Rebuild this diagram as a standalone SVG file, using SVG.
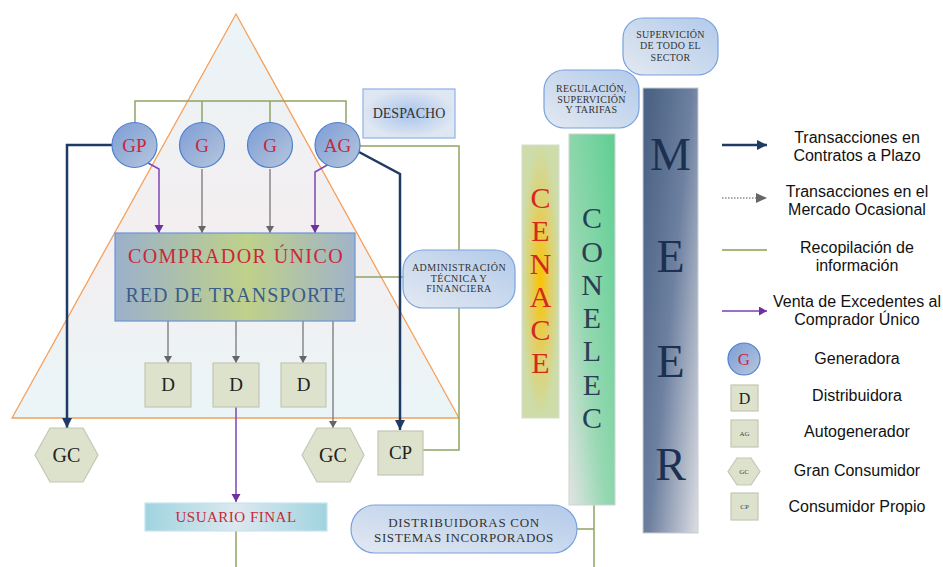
<svg xmlns="http://www.w3.org/2000/svg" width="943" height="567" viewBox="0 0 943 567">
<defs>
<linearGradient id="triG" x1="0" y1="0" x2="0" y2="1">
<stop offset="0" stop-color="#eaf4f7"/><stop offset="0.55" stop-color="#f4eef0"/><stop offset="1" stop-color="#eaf5f8"/>
</linearGradient>
<linearGradient id="circG" x1="0" y1="0" x2="1" y2="1">
<stop offset="0" stop-color="#7c9dd6"/><stop offset="1" stop-color="#b7c6dc"/>
</linearGradient>
<linearGradient id="cuG" x1="0" y1="0" x2="1" y2="0">
<stop offset="0" stop-color="#9bb0cb"/><stop offset="0.55" stop-color="#bfd18a"/><stop offset="1" stop-color="#a0b3c9"/>
</linearGradient>
<linearGradient id="ufG" x1="0" y1="0" x2="1" y2="0">
<stop offset="0" stop-color="#a0d4e0"/><stop offset="0.5" stop-color="#dde8ef"/><stop offset="1" stop-color="#a0d4e0"/>
</linearGradient>
<linearGradient id="lblG" x1="1" y1="0" x2="0" y2="1">
<stop offset="0" stop-color="#b2caea"/><stop offset="1" stop-color="#e3e9f1"/>
</linearGradient>
<radialGradient id="despG" cx="0.5" cy="0.5" r="0.5">
<stop offset="0" stop-color="#a8c3ec"/><stop offset="1" stop-color="#dfe7f2"/>
</radialGradient>
<radialGradient id="cenG" cx="0.5" cy="0.5" r="0.5">
<stop offset="0" stop-color="#fbc200"/><stop offset="0.55" stop-color="#e0d06a"/><stop offset="1" stop-color="#cddca8"/>
</radialGradient>
<linearGradient id="conG" x1="1" y1="0" x2="0" y2="1">
<stop offset="0" stop-color="#5ecf92"/><stop offset="0.6" stop-color="#96d8b2"/><stop offset="1" stop-color="#e2e4e4"/>
</linearGradient>
<linearGradient id="meerG" x1="0" y1="0.2" x2="1" y2="1">
<stop offset="0" stop-color="#4d6486"/><stop offset="0.45" stop-color="#6d80a0"/><stop offset="1" stop-color="#dcdee3"/>
</linearGradient>
<marker id="aNavy" markerWidth="10" markerHeight="10" refX="10" refY="5" orient="auto" markerUnits="userSpaceOnUse"><path d="M0,0 L10,5 L0,10 z" fill="#1f3a63"/></marker>
<marker id="aGray" markerWidth="8" markerHeight="8" refX="7" refY="4" orient="auto" markerUnits="userSpaceOnUse"><path d="M0,0 L7,4 L0,8 z" fill="#666"/></marker>
<marker id="aPur" markerWidth="9" markerHeight="10" refX="8" refY="4.5" orient="auto" markerUnits="userSpaceOnUse"><path d="M0,0 L8,4.5 L0,9 z" fill="#7030a0"/></marker>
<marker id="aGrayL" markerWidth="12" markerHeight="10" refX="11" refY="5" orient="auto" markerUnits="userSpaceOnUse"><path d="M0,0 L11,5 L0,10 z" fill="#666"/></marker>
<style>
.sf{font-family:"Liberation Serif","DejaVu Serif",serif;text-anchor:middle}
.ss{font-family:"Liberation Sans",Arial,sans-serif;text-anchor:middle;font-size:16px;fill:#111}
.red{fill:#c8283a}
.dk{fill:#333}
.box{fill:#dde2cc;stroke:#c3c7b5;stroke-width:1.2}
.circ{fill:url(#circG);stroke:#4f7fcf;stroke-width:1.2}
.lbl{fill:url(#lblG);stroke:#78a2df;stroke-width:1.2}
.navy{fill:none;stroke:#1f3a63;stroke-width:2.5}
.gray{fill:none;stroke:#777;stroke-width:1.3}
.pur{fill:none;stroke:#7d45b5;stroke-width:1.5}
.grn{fill:none;stroke:#8ea462;stroke-width:1.5}
</style>
</defs>
<rect width="943" height="567" fill="#fff"/>

<g id="triangle"><polygon points="236,14 459,418 12,418" fill="url(#triG)" stroke="#f5a05a" stroke-width="1.3"/></g>

<g id="connectors">
<polyline class="grn" points="135,123 135,101 346,101 346,123"/>
<line class="grn" x1="202" y1="101" x2="202" y2="123"/>
<line class="grn" x1="270" y1="101" x2="270" y2="123"/>
<polyline class="grn" points="360,146 459,146 459,250"/>
<polyline class="grn" points="459,308 459,450 423,450"/>
<line class="grn" x1="355" y1="277" x2="407" y2="277"/>
<line class="grn" x1="236" y1="531" x2="236" y2="567"/>
<line class="grn" x1="577" y1="529" x2="594" y2="529"/>
<line class="grn" x1="594" y1="505" x2="594" y2="567"/>
<polyline class="navy" points="112,145 67,145 67,428" marker-end="url(#aNavy)"/>
<polyline class="navy" points="359,152 400,174 400,430" marker-end="url(#aNavy)"/>
<polyline class="pur" points="148,163 159,169 159,233" marker-end="url(#aPur)"/>
<polyline class="pur" points="329,164 315,172 315,233" marker-end="url(#aPur)"/>
<line class="gray" x1="202" y1="169" x2="202" y2="233" marker-end="url(#aGray)"/>
<line class="gray" x1="270" y1="169" x2="270" y2="233" marker-end="url(#aGray)"/>
<line class="gray" x1="168" y1="321" x2="168" y2="363" marker-end="url(#aGray)"/>
<line class="gray" x1="236" y1="321" x2="236" y2="363" marker-end="url(#aGray)"/>
<line class="gray" x1="303" y1="321" x2="303" y2="363" marker-end="url(#aGray)"/>
<line class="gray" x1="333" y1="321" x2="333" y2="428" marker-end="url(#aGray)"/>
<line class="pur" x1="236" y1="407" x2="236" y2="502" marker-end="url(#aPur)"/>
</g>

<g id="gp"><circle class="circ" cx="134.5" cy="145" r="22.5"/><text class="sf red" x="134.5" y="151.5" font-size="19">GP</text></g>
<g id="g1"><circle class="circ" cx="202" cy="145" r="22.5"/><text class="sf red" x="202" y="151.5" font-size="19">G</text></g>
<g id="g2"><circle class="circ" cx="270" cy="145" r="22.5"/><text class="sf red" x="270" y="151.5" font-size="19">G</text></g>
<g id="ag"><circle class="circ" cx="337.5" cy="145" r="22.5"/><text class="sf red" x="337.5" y="151.5" font-size="19">AG</text></g>

<g id="despacho"><rect x="363" y="89" width="92" height="49" fill="url(#despG)" stroke="#8fb2e6" stroke-width="1.2"/><text class="sf dk" x="409" y="118" font-size="14">DESPACHO</text></g>

<g id="comprador"><rect x="115" y="233" width="240" height="88" fill="url(#cuG)" stroke="#6a95d6" stroke-width="1.2"/>
<text class="sf red" x="236" y="263" font-size="20" letter-spacing="1.4">COMPRADOR ÚNICO</text>
<text class="sf" x="236" y="302" font-size="20" letter-spacing="1" fill="#3c5c8c">RED DE TRANSPORTE</text></g>

<g id="admin"><rect class="lbl" x="403" y="250" width="112" height="58" rx="20"/>
<text class="sf dk" font-size="10" letter-spacing="0.5"><tspan x="459" y="271">ADMINISTRACIÓN</tspan><tspan x="459" y="282">TÉCNICA Y</tspan><tspan x="459" y="292">FINANCIERA</tspan></text></g>

<g id="d1"><rect class="box" x="145" y="363" width="46" height="44"/><text class="sf" x="168" y="391" font-size="19" fill="#222">D</text></g>
<g id="d2"><rect class="box" x="213" y="363" width="46" height="44"/><text class="sf" x="236" y="391" font-size="19" fill="#222">D</text></g>
<g id="d3"><rect class="box" x="281" y="363" width="45" height="44"/><text class="sf" x="303.5" y="391" font-size="19" fill="#222">D</text></g>

<g id="gc1"><polygon class="box" points="35,455 50,428 83,428 98,455 83,482 50,482"/><text class="sf" x="66.5" y="462" font-size="20" fill="#222">GC</text></g>
<g id="gc2"><polygon class="box" points="302,455 317,428 350,428 364,455 350,482 317,482"/><text class="sf" x="333" y="462" font-size="20" fill="#222">GC</text></g>
<g id="cp"><rect class="box" x="378" y="431" width="45" height="44"/><text class="sf" x="400.5" y="459" font-size="19" fill="#222">CP</text></g>

<g id="usuario"><rect x="145" y="503" width="182" height="28" fill="url(#ufG)" stroke="#c5e5ee" stroke-width="1.2"/><text class="sf red" x="236" y="522" font-size="15" letter-spacing="0.5">USUARIO FINAL</text></g>

<g id="distrib"><rect class="lbl" x="351" y="505" width="226" height="48" rx="24"/>
<text class="sf dk" font-size="13"><tspan x="464" y="527" letter-spacing="0.7">DISTRIBUIDORAS CON</tspan><tspan x="464" y="542" letter-spacing="0.6">SISTEMAS INCORPORADOS</tspan></text></g>

<g id="cenace"><rect x="522" y="145" width="37" height="273" fill="url(#cenG)" stroke="#d8dcd0" stroke-width="1"/>
<text class="sf" font-size="30" fill="#d42a1e"><tspan x="540.5" y="208">C</tspan><tspan x="540.5" y="241">E</tspan><tspan x="540.5" y="274">N</tspan><tspan x="540.5" y="307">A</tspan><tspan x="540.5" y="340">C</tspan><tspan x="540.5" y="373">E</tspan></text></g>

<g id="conelec"><rect x="569" y="134" width="46" height="371" fill="url(#conG)" stroke="#cfd3d0" stroke-width="1"/>
<text class="sf" font-size="30" fill="#2a3f55"><tspan x="592" y="228">C</tspan><tspan x="592" y="262">O</tspan><tspan x="592" y="295">N</tspan><tspan x="592" y="328">E</tspan><tspan x="592" y="361">L</tspan><tspan x="592" y="395">E</tspan><tspan x="592" y="428">C</tspan></text></g>

<g id="meer"><rect x="643" y="88" width="55" height="445" fill="url(#meerG)" stroke="#c8ccd2" stroke-width="1"/>
<text class="sf" font-size="46" fill="#1e3050"><tspan x="670.5" y="170">M</tspan><tspan x="670.5" y="272">E</tspan><tspan x="670.5" y="377">E</tspan><tspan x="670.5" y="480">R</tspan></text></g>

<g id="regulacion"><rect class="lbl" x="544" y="70" width="95" height="58" rx="20"/>
<text class="sf dk" font-size="10" letter-spacing="0.3"><tspan x="591.5" y="92">REGULACIÓN,</tspan><tspan x="591.5" y="102.5">SUPERVICIÓN</tspan><tspan x="591.5" y="113">Y TARIFAS</tspan></text></g>

<g id="supervicion"><rect class="lbl" x="623" y="18" width="95" height="57" rx="20"/>
<text class="sf dk" font-size="10" letter-spacing="0.3"><tspan x="670.5" y="38">SUPERVICIÓN</tspan><tspan x="670.5" y="49">DE TODO EL</tspan><tspan x="670.5" y="61">SECTOR</tspan></text></g>

<g id="legend">
<line x1="722" y1="145" x2="767" y2="145" stroke="#1f3a63" stroke-width="2.5" marker-end="url(#aNavy)"/>
<text class="ss"><tspan x="857" y="143">Transacciones en</tspan><tspan x="857" y="161">Contratos a Plazo</tspan></text>
<line x1="722" y1="198" x2="767" y2="198" stroke="#555" stroke-width="1" stroke-dasharray="1.5,1.5" marker-end="url(#aGrayL)"/>
<text class="ss"><tspan x="857" y="197">Transacciones en el</tspan><tspan x="857" y="215">Mercado Ocasional</tspan></text>
<line x1="722" y1="250" x2="767" y2="250" stroke="#a5b87c" stroke-width="2"/>
<text class="ss"><tspan x="857" y="253">Recopilación de</tspan><tspan x="857" y="271">información</tspan></text>
<line x1="722" y1="311" x2="767" y2="311" stroke="#9a6fc8" stroke-width="2" marker-end="url(#aPur)"/>
<text class="ss"><tspan x="857" y="307">Venta de Excedentes al</tspan><tspan x="857" y="325">Comprador Único</tspan></text>
<circle class="circ" cx="744" cy="359" r="16"/><text class="sf red" x="744" y="365" font-size="17">G</text>
<text class="ss" x="857" y="364">Generadora</text>
<rect class="box" x="731" y="385" width="27" height="26"/><text class="sf" x="744.5" y="404" font-size="16" fill="#222">D</text>
<text class="ss" x="857" y="401">Distribuidora</text>
<rect class="box" x="731" y="420" width="27" height="27"/><text class="sf" x="744.5" y="436" font-size="7" fill="#444">AG</text>
<text class="ss" x="857" y="437">Autogenerador</text>
<polygon class="box" points="728,471.5 737,458 751,458 760,471.5 751,485 737,485"/><text class="sf" x="744" y="474" font-size="7" fill="#444">GC</text>
<text class="ss" x="857" y="476">Gran Consumidor</text>
<rect class="box" x="731" y="493" width="27" height="27"/><text class="sf" x="744.5" y="509" font-size="7" fill="#444">CP</text>
<text class="ss" x="857" y="512">Consumidor Propio</text>
</g>
</svg>
